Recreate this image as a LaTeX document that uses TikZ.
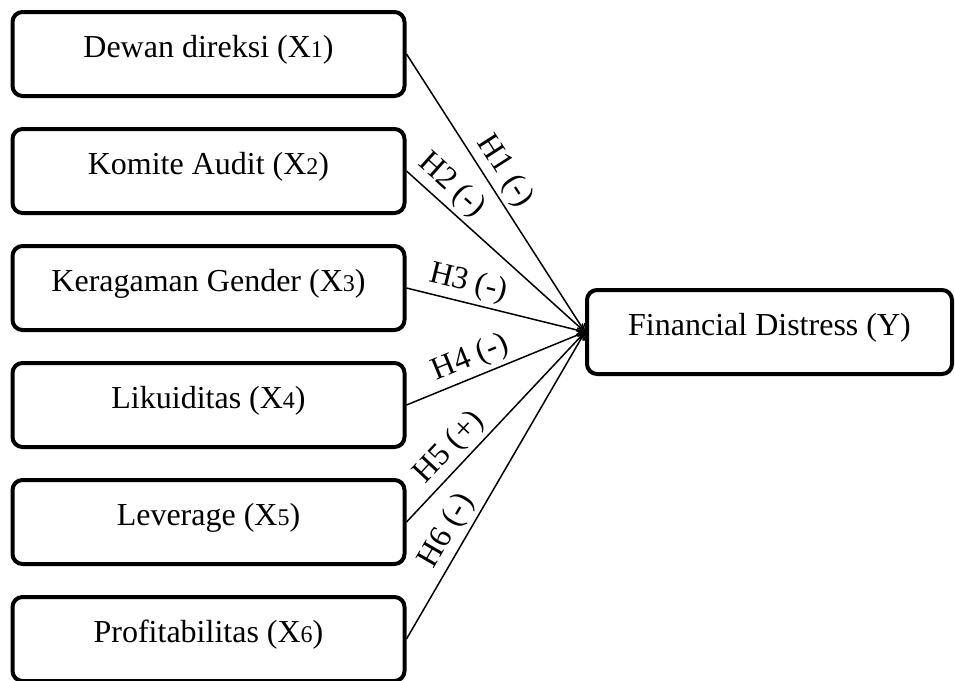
\documentclass[tikz,border=0pt]{standalone}
\usepackage{fontspec}
\setmainfont{Liberation Serif}
\usepackage{tikz}
\usetikzlibrary{arrows.meta}
\newcommand{\SD}[1]{{\fontsize{12pt}{14pt}\selectfont #1}}

\begin{document}
\begin{tikzpicture}[
  var/.style={draw, line width=2pt, rounded corners=5pt, minimum width=196pt,
    minimum height=42pt, text height=11pt, text depth=8pt},
  hyp/.style={sloped, above, inner sep=2pt},
  conn/.style={-{To[length=4pt, width=5pt]}, line width=0.75pt}]

  \fontsize{16pt}{19pt}\selectfont

  \newcommand\Xl{104.25pt};
  \newcommand\Y{58.5pt};

  \useasboundingbox (0,0) rectangle (477.5pt,-340.5pt);

  \node[var] (x1) at (\Xl, -27pt-0*\Y) {Dewan direksi (X\SD{1})};
  \node[var] (x2) at (\Xl, -27pt-1*\Y) {Komite Audit (X\SD{2})};
  \node[var] (x3) at (\Xl, -27pt-2*\Y) {Keragaman Gender (X\SD{3})};
  \node[var] (x4) at (\Xl, -27pt-3*\Y) {Likuiditas (X\SD{4})};
  \node[var] (x5) at (\Xl, -27pt-4*\Y) {Leverage (X\SD{5})};
  \node[var] (x6) at (\Xl, -27pt-5*\Y) {Profitabilitas (X\SD{6})};
  \node[var, minimum width=182.5pt] (fd) at (384.75pt, -166pt) {Financial Distress (Y)};

  \draw[conn] (x1.east) -- node[hyp, pos=0.46]{H1 (-)} (fd.west); %% X1->Y
  \draw[conn] (x2.east) -- node[hyp, pos=0.18]{H2 (-)} (fd.west); %% X2->Y
  \draw[conn] (x3.east) -- node[hyp, pos=0.32]{H3 (-)} (fd.west); %% X3->Y
  \draw[conn] (x4.east) -- node[hyp, pos=0.40]{H4 (-)} (fd.west); %% X4->Y
  \draw[conn] (x5.east) -- node[hyp, pos=0.32]{H5 (+)} (fd.west); %% X5->Y
  \draw[conn] (x6.east) -- node[hyp, pos=0.32]{H6 (-)} (fd.west); %% X6->Y
\end{tikzpicture}
\end{document}
